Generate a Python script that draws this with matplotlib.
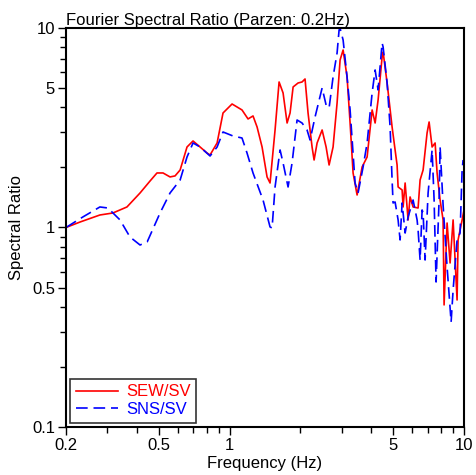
import matplotlib
matplotlib.use("Agg")
import matplotlib.pyplot as plt
from matplotlib.ticker import FixedLocator, NullFormatter

plt.rcParams['font.family'] = ['Liberation Sans', 'DejaVu Sans']

# SEW/SV spectral ratio
sew_freq = [0.200, 0.230, 0.279, 0.317, 0.364, 0.414, 0.457, 0.489, 0.519, 0.556,
            0.584, 0.614, 0.657, 0.697, 0.747, 0.800, 0.824, 0.883, 0.936, 1.023,
            1.128, 1.197, 1.257, 1.308, 1.374, 1.443, 1.486, 1.561, 1.624, 1.689,
            1.757, 1.809, 1.864, 1.957, 2.035, 2.096, 2.159, 2.246, 2.291, 2.360,
            2.479, 2.578, 2.655, 2.761, 2.872, 2.958, 3.047, 3.168, 3.264, 3.361,
            3.496, 3.673, 3.858, 4.053, 4.174, 4.298, 4.471, 4.515, 4.696, 4.932,
            5.080, 5.180, 5.232, 5.442, 5.496, 5.606, 5.772, 5.886, 6.062, 6.368,
            6.494, 6.690, 6.956, 7.096, 7.308, 7.528, 7.676, 7.906, 8.142, 8.222,
            8.468, 8.722, 8.984, 9.342, 9.434, 9.816, 10.0]
sew_ratio = [1.000, 1.066, 1.155, 1.182, 1.267, 1.489, 1.711, 1.876, 1.876, 1.792,
             1.813, 1.942, 2.532, 2.714, 2.532, 2.362, 2.309, 2.652, 3.749, 4.159,
             3.882, 3.499, 3.623, 3.190, 2.532, 1.792, 1.671, 3.081, 5.362, 4.724,
             3.340, 3.749, 5.062, 5.300, 5.362, 5.551, 3.749, 2.532, 2.179, 2.652,
             3.081, 2.532, 2.057, 2.532, 4.208, 6.913, 7.757, 5.681, 3.340, 1.876,
             1.455, 2.011, 2.256, 3.882, 3.340, 4.357, 7.155, 7.581, 5.300, 3.190,
             2.446, 2.057, 1.596, 1.542, 1.267, 1.671, 1.091, 1.422, 1.267, 1.252,
             1.730, 1.942, 2.977, 3.379, 2.532, 2.652, 1.876, 1.373, 1.091, 0.409,
             1.053, 0.664, 1.091, 0.433, 0.866, 1.091, 1.224]

# SNS/SV spectral ratio
sns_freq = [0.200, 0.236, 0.279, 0.302, 0.340, 0.375, 0.414, 0.444, 0.504, 0.556,
            0.614, 0.657, 0.697, 0.747, 0.824, 0.883, 0.936, 1.033, 1.128, 1.185,
            1.257, 1.387, 1.486, 1.516, 1.561, 1.640, 1.689, 1.774, 1.845, 1.938,
            2.035, 2.138, 2.202, 2.313, 2.479, 2.578, 2.655, 2.761, 2.872, 2.929,
            2.958, 3.047, 3.168, 3.264, 3.428, 3.530, 3.709, 3.858, 4.053, 4.174,
            4.298, 4.471, 4.515, 4.696, 4.836, 4.932, 4.980, 5.080, 5.232, 5.336,
            5.442, 5.606, 5.772, 6.062, 6.306, 6.368, 6.494, 6.624, 6.690, 6.822,
            7.026, 7.308, 7.454, 7.600, 7.828, 7.906, 8.142, 8.468, 8.810, 8.984,
            9.342, 9.622, 9.816, 9.912]
sns_ratio = [1.000, 1.129, 1.267, 1.252, 1.091, 0.896, 0.817, 0.846, 1.182, 1.489,
             1.730, 2.256, 2.652, 2.532, 2.282, 2.532, 3.011, 2.874, 2.809, 2.362,
             1.876, 1.373, 1.006, 0.994, 1.596, 2.446, 2.105, 1.596, 2.105, 3.458,
             3.340, 3.081, 2.745, 3.580, 5.003, 4.111, 3.972, 5.681, 7.494, 9.772,
             9.950, 8.706, 5.681, 3.882, 1.671, 1.489, 2.011, 2.652, 4.724, 6.159,
             4.890, 8.410, 8.031, 5.300, 3.190, 1.730, 1.327, 1.342, 1.091, 0.866,
             1.327, 0.938, 1.129, 1.373, 1.091, 0.972, 0.687, 1.224, 1.182, 0.687,
             1.489, 2.446, 1.373, 0.533, 1.373, 2.532, 1.296, 0.634, 0.336, 0.486,
             0.866, 0.938, 1.942, 2.179]

x_major = [0.2, 0.5, 1, 5, 10]
x_major_labels = ['0.2', '0.5', '1', '5', '10']
x_minor = [0.3, 0.4, 0.6, 0.7, 0.8, 0.9, 2, 3, 4, 6, 7, 8, 9]
y_major = [0.1, 0.5, 1, 5, 10]
y_major_labels = ['0.1', '0.5', '1', '5', '10']
y_minor = [0.2, 0.3, 0.4, 0.6, 0.7, 0.8, 0.9, 2, 3, 4, 6, 7, 8, 9]

fig = plt.figure(figsize=(4.76, 4.75), dpi=100)
ax = fig.add_axes([0.1387, 0.1011, 0.8361, 0.8400])

ax.plot(sew_freq, sew_ratio, color='#ff0000', linewidth=1.2, label='SEW/SV')
ax.plot(sns_freq, sns_ratio, color='#0000ff', linewidth=1.2,
        linestyle=(0, (7, 3.5)), label='SNS/SV')

ax.set_xscale('log')
ax.set_yscale('log')
ax.set_xlim(0.2, 10)
ax.set_ylim(0.1, 10)

ax.xaxis.set_major_locator(FixedLocator(x_major))
ax.xaxis.set_minor_locator(FixedLocator(x_minor))
ax.set_xticklabels(x_major_labels)
ax.xaxis.set_minor_formatter(NullFormatter())
ax.yaxis.set_major_locator(FixedLocator(y_major))
ax.yaxis.set_minor_locator(FixedLocator(y_minor))
ax.set_yticklabels(y_major_labels)
ax.yaxis.set_minor_formatter(NullFormatter())

ax.tick_params(which='major', direction='out', length=6, width=1, labelsize=12, pad=2)
ax.tick_params(which='minor', direction='out', length=4, width=1)

for side in ax.spines.values():
    side.set_linewidth(1.5)

ax.set_xlabel('Frequency (Hz)', fontsize=12, labelpad=2)
ax.set_ylabel('Spectral Ratio', fontsize=12, labelpad=6)
ax.set_title('Fourier Spectral Ratio (Parzen: 0.2Hz)', loc='left', fontsize=12, pad=2)

leg = ax.legend(loc='lower left', fontsize=12, frameon=True, fancybox=False,
                handlelength=2.5, borderaxespad=0.25, labelspacing=0.15,
                borderpad=0.35, handletextpad=0.5)
leg.get_frame().set_edgecolor('black')
leg.get_frame().set_linewidth(1.2)
for txt, ln in zip(leg.get_texts(), leg.get_lines()):
    txt.set_color(ln.get_color())

fig.savefig('out.png', dpi=100)
